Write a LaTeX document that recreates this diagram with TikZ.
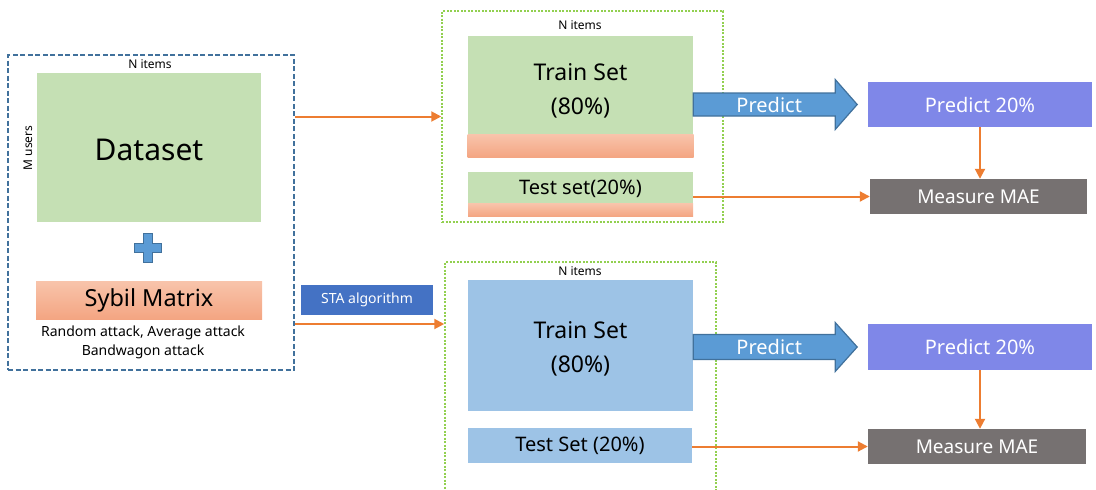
\documentclass[tikz,border=0pt]{standalone}
\usepackage{fontspec}
\setmainfont{Noto Sans}
\usetikzlibrary{arrows.meta,positioning,calc}
\definecolor{dsgreen}{HTML}{C5E0B4}
\definecolor{dsblue}{HTML}{9DC3E6}
\definecolor{salmonT}{HTML}{F8C4AB}
\definecolor{salmonB}{HTML}{F4A582}
\definecolor{frameblue}{HTML}{41719C}
\definecolor{framegreen}{HTML}{92D050}
\definecolor{flowor}{HTML}{ED7D31}
\definecolor{arrblue}{HTML}{5B9BD5}
\definecolor{stablue}{HTML}{4472C4}
\definecolor{predviolet}{HTML}{7F87E8}
\definecolor{maegray}{HTML}{767171}

\begin{document}
\begin{tikzpicture}[x=1pt,y=-1pt,
  cell/.style={rectangle,inner sep=0pt,align=center},
  huge/.style={font=\fontsize{30}{36}\selectfont},
  large/.style={font=\fontsize{23}{34}\selectfont},
  medium/.style={font=\fontsize{20}{24}\selectfont},
  small/.style={font=\fontsize{14}{19}\selectfont},
  tiny/.style={font=\fontsize{12}{14}\selectfont},
  strip/.style={cell,top color=salmonT,bottom color=salmonB},
  frameL/.style={draw=frameblue,line width=1.5pt,dash pattern=on 5pt off 2.5pt},
  frameR/.style={draw=framegreen,line width=1.5pt,dash pattern=on 2pt off 1.5pt},
  flow/.style={draw=flowor,line width=2pt,-{Triangle[length=10pt,width=10pt]}},
  bigarrow/.style={fill=arrblue,draw=frameblue,line width=1.2pt},
  result/.style={cell,fill=predviolet,text=white,medium,minimum width=224pt,minimum height=45pt},
  mae/.style={cell,fill=maegray,text=white,font=\fontsize{19}{23}\selectfont,minimum width=217pt,minimum height=35pt}]
\clip (0,0) rectangle (1096,490);

\node[cell,frameL,minimum width=286pt,minimum height=315pt] (outer) at (151,212.5) {};
\node[tiny] (itemsL) at (150,64) {N items};
\node[cell,fill=dsgreen,huge,minimum width=224pt,minimum height=149pt] (data) at (149,147.5) {\rule{0pt}{27pt}Dataset};
\node[tiny,rotate=90] (users) at (28,148) {M users};
\draw[bigarrow] (148,248) ++(-4.7,-14.5) -- ++(9.4,0) -- ++(0,9.8) -- ++(9,0) -- ++(0,9.4) -- ++(-9,0)
  -- ++(0,9.8) -- ++(-9.4,0) -- ++(0,-9.8) -- ++(-9,0) -- ++(0,-9.4) -- ++(9,0) -- cycle;
\node[strip,font=\fontsize{23.5}{28}\selectfont,minimum width=226pt,minimum height=38pt] (sybil) at (149,300) {Sybil Matrix};
\node[small,align=center] (attacks) at (143,342) {Random attack, Average attack\\Bandwagon attack};
\node[cell,fill=stablue,text=white,small,minimum width=132pt,minimum height=30pt] (sta) at (367,300) {STA algorithm};

\node[cell,frameR,minimum width=281pt,minimum height=211pt] (splitA) at (582.5,116.5) {};
\node[tiny] (itemsA) at (580,25) {N items};
\node[cell,fill=dsgreen,large,minimum width=225pt,minimum height=98pt] (trainA) at (580.5,85) {\rule{0pt}{28pt}Train Set\\(80\%)};
\node[strip,minimum width=226pt,minimum height=23pt,below=0pt of trainA] (sybA) {};
\node[cell,fill=dsgreen,medium,minimum width=225pt,minimum height=31pt] (testA) at (580.5,187.5) {\rule{0pt}{18pt}Test set(20\%)};
\node[strip,minimum width=225pt,minimum height=13pt,below=0pt of testA] (sybA2) {};

\node[cell,frameR,minimum width=271pt,minimum height=238pt] (splitB) at (580.5,381) {};
\node[tiny] (itemsB) at (580,271) {N items};
\node[cell,fill=dsblue,large,minimum width=225pt,minimum height=131pt] (trainB) at (580.5,345.5) {\rule{0pt}{24pt}Train Set\\(80\%)};
\node[cell,fill=dsblue,medium,minimum width=224pt,minimum height=35pt] (testB) at (580,445.5) {Test Set (20\%)};

\node[result] (predA) at (980,104.5) {Predict 20\%};
\node[mae] (maeA) at (978.5,196.5) {Measure MAE};
\node[result,minimum height=46pt] (predB) at (980,347) {Predict 20\%};
\node[mae,minimum width=218pt] (maeB) at (977,446.5) {Measure MAE};

\draw[bigarrow] (trainA.east |- predA.west) ++(0,-11.5) -- ++(142,0) -- ++(0,-13.5) -- ++(22,25)
  -- ++(-22,25) -- ++(0,-13.5) -- ++(-142,0) -- cycle;
\node[medium,text=white] (predictA) at ($(trainA.east |- predA.west)+(76,0)$) {Predict};
\draw[bigarrow] (trainB.east |- predB.west) ++(0,-12.5) -- ++(142,0) -- ++(0,-12) -- ++(22,24.5)
  -- ++(-22,24.5) -- ++(0,-12) -- ++(-142,0) -- cycle;
\node[medium,text=white] (predictB) at ($(trainB.east |- predB.west)+(76,0)$) {Predict};

\coordinate (enter) at (0,324);
\draw[flow] (outer.east |- splitA.west) -- (splitA.west);
\draw[flow] (outer.east |- enter) -- (splitB.west |- enter);
\draw[flow] (testA.east |- maeA.west) -- (maeA.west);
\draw[flow] (testB.east |- maeB.west) -- (maeB.west);
\draw[flow] (predA.south) -- (predA.south |- maeA.north);
\draw[flow] (predB.south) -- (predB.south |- maeB.north);
\end{tikzpicture}
\end{document}
